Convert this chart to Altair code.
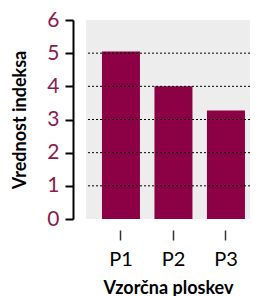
import altair as alt
import pandas as pd

categories = ["P1", "P2", "P3"]
values = [5.05, 4.0, 3.27]
grid_levels = [1, 2, 3, 4, 5]
y_ticks = [0, 1, 2, 3, 4, 5, 6]

bars_df = pd.DataFrame({"plot": categories, "value": values})
grid_df = pd.DataFrame({"value": grid_levels})

FONT = "Lato"

y_axis = alt.Axis(title="Vrednost indeksa", values=y_ticks, grid=False,
                  labelOverlap=False,
                  domainColor="#000000", domainWidth=2, tickColor="#000000",
                  tickWidth=2, tickSize=8, offset=13, labelFontSize=21,
                  labelColor="#8B1A50", labelFont=FONT, labelPadding=6,
                  titleFont=FONT, titleFontSize=18, titleFontWeight="bold",
                  titleColor="#000000", titlePadding=17)
y_scale = alt.Scale(domain=[0, 6])

bars = alt.Chart(bars_df).mark_bar(color="#8C0045").encode(
    x=alt.X("plot:N", sort=categories,
            scale=alt.Scale(paddingInner=0.276, paddingOuter=0.2, align=0.76),
            axis=alt.Axis(title="Vzorčna ploskev", labelAngle=0, domain=False,
                          tickColor="#333333", tickWidth=1.5, tickSize=10, offset=11,
                          labelFontSize=20, labelColor="#000000", labelFont=FONT,
                          labelPadding=9, titleFont=FONT, titleFontSize=18,
                          titleFontWeight="bold", titleColor="#000000", titlePadding=10)),
    y=alt.Y("value:Q", scale=y_scale, axis=y_axis),
)

grid = alt.Chart(grid_df).mark_rule(color="#000000", strokeDash=[2, 2], strokeWidth=1).encode(
    y=alt.Y("value:Q", scale=y_scale, axis=y_axis)
)

chart = alt.layer(bars, grid).properties(
    width=164, height=199,
    autosize="none",
    padding={"left": 78, "top": 12, "right": 0, "bottom": 80},
).configure_view(fill="#EDEDED", stroke=None)

chart.save("out.html", embed_options={"renderer": "svg", "actions": False})
